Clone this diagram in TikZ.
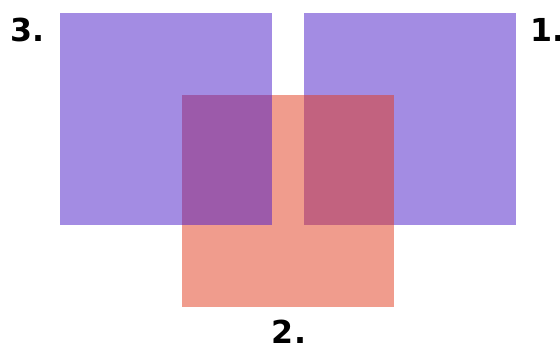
\documentclass[tikz,border=0pt]{standalone}
\usepackage{fontspec}
\newfontfamily\numfonte{DejaVu Sans}
\definecolor{roxo}{RGB}{72,26,200}
\definecolor{salmao}{RGB}{226,58,28}
\begin{document}
\begin{tikzpicture}[x=0.02cm,y=0.02cm,
  quadro/.style={rectangle,inner sep=0pt,minimum width=4.24cm,minimum height=4.24cm,fill opacity=.5},
  numero/.style={inner sep=0pt,font=\numfonte\bfseries\fontsize{18}{20}\selectfont}]
  \useasboundingbox (0,0) rectangle (560,345);
  \node[quadro,fill=roxo] (q1) at (410,226) {};
  \node[quadro,fill=salmao] (q2) at (288,144) {};
  \node[quadro,fill=roxo] (q3) at (166,226) {};
  \node[numero,anchor=west] (n1) at (530,315) {1.};
  \node[numero] (n2) at (289,13) {2.};
  \node[numero,anchor=west] (n3) at (10,315) {3.};
\end{tikzpicture}
\end{document}
